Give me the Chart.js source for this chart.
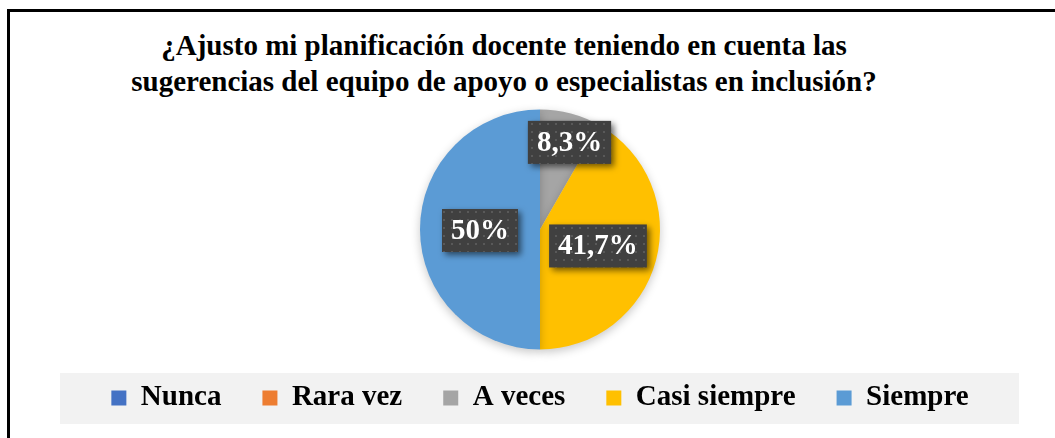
<!DOCTYPE html>
<html>
<head>
<meta charset="utf-8">
<script src="https://cdn.jsdelivr.net/npm/chart.js@4/dist/chart.umd.min.js"></script>
<style>
  html, body { margin: 0; padding: 0; background: #fff; }
  body { width: 1055px; height: 438px; position: relative; overflow: hidden; }
  .frame {
    position: absolute; left: 7px; top: 9px; width: 1200px; height: 600px;
    border-top: 3px solid #000; border-left: 3px solid #000;
  }
  .title {
    position: absolute; left: 0; width: 1008px; top: 27px;
    text-align: center; font-family: 'Liberation Serif', serif; font-weight: bold;
    font-size: 29px; line-height: 36px; color: #000;
  }
  canvas { position: absolute; left: 0; top: 0; }
</style>
</head>
<body>
<div class="frame"></div>
<div class="title">¿Ajusto mi planificación docente teniendo en cuenta las<br>sugerencias del equipo de apoyo o especialistas en inclusión?</div>
<canvas id="chart" width="1055" height="438"></canvas>
<script>
const categories = ['Nunca', 'Rara vez', 'A veces', 'Casi siempre', 'Siempre'];
const percentages = [0, 0, 8.3, 41.7, 50];
const colors = ['#4472C4', '#ED7D31', '#A5A5A5', '#FFC000', '#5B9BD5'];

const serif = "'Liberation Serif', 'Times New Roman', serif";

// grey band behind the legend
const legendBand = {
  id: 'legendBand',
  beforeDraw(chart) {
    const lg = chart.legend;
    const { ctx } = chart;
    const mid = lg.top + lg.options.labels.padding + 14.5;
    ctx.save();
    ctx.fillStyle = '#F2F2F2';
    ctx.fillRect(lg.left + 35, mid - 25, lg.width - 71, 51);
    ctx.restore();
  }
};

// soft shadow under the pie
const pieShadow = {
  id: 'pieShadow',
  beforeDatasetsDraw(chart) {
    const ctx = chart.ctx;
    ctx.save();
    ctx.shadowColor = 'rgba(0,0,0,0.22)';
    ctx.shadowBlur = 10;
    ctx.shadowOffsetY = 3;
  },
  afterDatasetsDraw(chart) {
    chart.ctx.restore();
  }
};

// dark boxed value labels
let dotPattern = null;
function getPattern(ctx) {
  if (dotPattern) return dotPattern;
  const c = document.createElement('canvas');
  c.width = 8; c.height = 8;
  const p = c.getContext('2d');
  p.fillStyle = '#404040';
  p.fillRect(0, 0, 8, 8);
  p.fillStyle = '#595959';
  p.fillRect(3, 3, 2, 2);
  dotPattern = ctx.createPattern(c, 'repeat');
  return dotPattern;
}

// how far out along the slice each label sits, plus a small nudge
const labelPos = [0.5, 0.5, 0.76, 0.5, 0.5];
const labelNudgeX = [0, 0, 6, 0, 0];

const valueLabels = {
  id: 'valueLabels',
  afterDraw(chart) {
    const { ctx } = chart;
    const meta = chart.getDatasetMeta(0);
    ctx.save();
    ctx.font = 'bold 29px ' + serif;
    meta.data.forEach((arc, i) => {
      const v = percentages[i];
      if (!v) return;
      const { x, y, startAngle, endAngle, outerRadius } = arc.getProps(['x', 'y', 'startAngle', 'endAngle', 'outerRadius'], true);
      const a = (startAngle + endAngle) / 2;
      const r = outerRadius * labelPos[i];
      const cx = x + Math.cos(a) * r + labelNudgeX[i];
      const cy = y + Math.sin(a) * r + 1;
      const text = String(v).replace('.', ',') + '%';
      const w = ctx.measureText(text).width + 18;
      const h = 43;
      ctx.save();
      ctx.shadowColor = 'rgba(0,0,0,0.55)';
      ctx.shadowBlur = 6;
      ctx.shadowOffsetX = 3;
      ctx.shadowOffsetY = 3;
      ctx.fillStyle = getPattern(ctx);
      ctx.fillRect(cx - w / 2, cy - h / 2, w, h);
      ctx.restore();
      ctx.fillStyle = '#fff';
      ctx.textAlign = 'center';
      ctx.textBaseline = 'middle';
      ctx.fillText(text, cx, cy + 1);
    });
    ctx.restore();
  }
};

new Chart(document.getElementById('chart'), {
  type: 'pie',
  data: {
    labels: categories,
    datasets: [{
      data: percentages,
      backgroundColor: colors,
      borderWidth: 0
    }]
  },
  options: {
    responsive: false,
    animation: false,
    radius: 120,
    layout: { padding: { top: 116.5, bottom: 15.5, left: 25, right: 0 } },
    plugins: {
      tooltip: { enabled: false },
      title: { display: false },
      legend: {
        position: 'bottom',
        labels: {
          boxWidth: 15,
          boxHeight: 15,
          padding: 41,
          color: '#000',
          font: { family: serif, size: 29, weight: 'bold' }
        }
      }
    }
  },
  plugins: [legendBand, pieShadow, valueLabels]
});
</script>
</body>
</html>
